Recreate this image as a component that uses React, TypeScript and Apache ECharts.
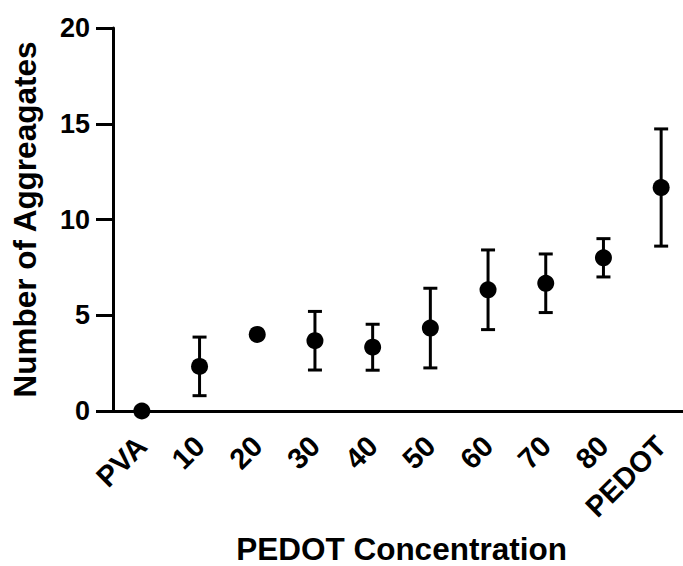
import React, { useEffect, useRef } from "react";
import * as echarts from "echarts";

const categories = ["PVA", "10", "20", "30", "40", "50", "60", "70", "80", "PEDOT"];
const means = [0, 2.33, 4.0, 3.67, 3.33, 4.33, 6.33, 6.67, 8.0, 11.67];
const errors = [0, 1.53, 0, 1.53, 1.2, 2.08, 2.08, 1.53, 1.0, 3.06];
const yMin = 0;
const yMax = 20;
const yStep = 5;

const FONT = "Liberation Sans";

export default function App() {
  const ref = useRef<HTMLDivElement>(null);
  useEffect(() => {
    document.body.style.margin = "0";
    const chart = echarts.init(ref.current!, null, { renderer: "svg" });
    const errData = means.map((m, i) => [i, m - errors[i], m + errors[i]]);
    chart.setOption({
      animation: false,
      backgroundColor: "#ffffff",
      grid: {
        left: 113,
        right: -7,
        top: 28,
        bottom: 155,
        containLabel: false,
        outerBoundsMode: "none",
      },
      xAxis: {
        type: "category",
        data: categories,
        boundaryGap: true,
        name: "PEDOT Concentration",
        nameLocation: "middle",
        nameGap: 122,
        nameTextStyle: { fontFamily: FONT, fontWeight: "bold", fontSize: 31.5, color: "#000" },
        axisLine: { lineStyle: { color: "#000", width: 3 } },
        axisTick: { alignWithLabel: true, length: 16, lineStyle: { color: "#000", width: 3 } },
        axisLabel: {
          rotate: 45,
          interval: 0,
          margin: 30,
          fontFamily: FONT,
          fontWeight: "bold",
          fontSize: 29,
          color: "#000",
        },
        splitLine: { show: false },
      },
      yAxis: {
        type: "value",
        min: yMin,
        max: yMax,
        interval: yStep,
        name: "Number of Aggreagates",
        nameLocation: "middle",
        nameGap: 72,
        nameTextStyle: { fontFamily: FONT, fontWeight: "bold", fontSize: 31.5, color: "#000" },
        axisLine: { show: true, lineStyle: { color: "#000", width: 3 } },
        axisTick: { show: true, length: 17, lineStyle: { color: "#000", width: 3 } },
        axisLabel: { margin: 23, fontFamily: FONT, fontWeight: "bold", fontSize: 27, color: "#000" },
        splitLine: { show: false },
      },
      series: [
        {
          type: "custom",
          data: errData,
          z: 2,
          clip: false,
          renderItem: (params: any, api: any) => {
            const i = api.value(0);
            const lo = api.value(1);
            const hi = api.value(2);
            if (hi - lo <= 0) return { type: "group", children: [] };
            const pLo = api.coord([i, lo]);
            const pHi = api.coord([i, hi]);
            const cap = 7;
            const style = { stroke: "#000", lineWidth: 3 };
            return {
              type: "group",
              children: [
                { type: "line", shape: { x1: pLo[0], y1: pLo[1], x2: pHi[0], y2: pHi[1] }, style },
                { type: "line", shape: { x1: pHi[0] - cap, y1: pHi[1], x2: pHi[0] + cap, y2: pHi[1] }, style },
                { type: "line", shape: { x1: pLo[0] - cap, y1: pLo[1], x2: pLo[0] + cap, y2: pLo[1] }, style },
              ],
            };
          },
        },
        {
          type: "scatter",
          data: means.map((m, i) => [i, m]),
          symbol: "circle",
          symbolSize: 17,
          itemStyle: { color: "#000", opacity: 1 },
          z: 3,
          clip: false,
        },
      ],
    });
    return () => chart.dispose();
  }, []);
  return <div ref={ref} style={{ width: 683, height: 566 }} />;
}
